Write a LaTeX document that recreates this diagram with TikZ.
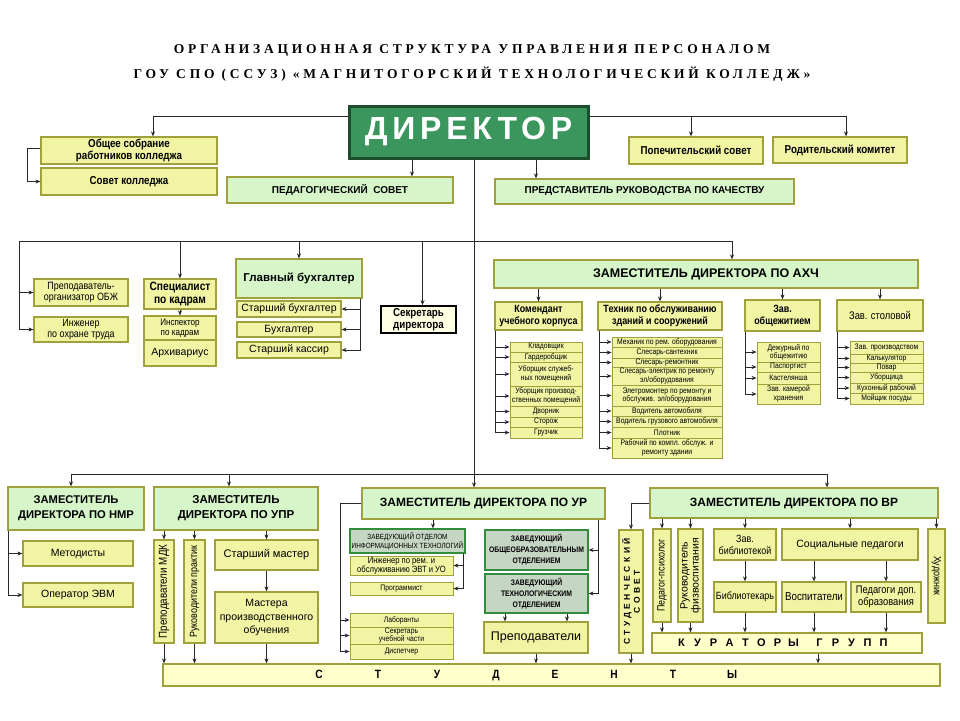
\documentclass[tikz,border=0pt]{standalone}
\usepackage{fontspec}
\setmainfont{Liberation Sans}
\newfontfamily\nar[FakeStretch=0.85]{Liberation Sans}
\newfontfamily\titlef[LetterSpace=28]{Liberation Serif}
\newfontfamily\dirf[LetterSpace=15]{Liberation Sans}
\newfontfamily\widef[LetterSpace=40]{Liberation Sans}
\usetikzlibrary{arrows.meta}
\definecolor{ybox}{RGB}{240,244,163}
\definecolor{gbox}{RGB}{214,246,202}
\definecolor{bord}{RGB}{160,160,60}
\definecolor{zfill}{RGB}{198,214,196}
\definecolor{zbord}{RGB}{50,140,60}
\definecolor{cbox}{RGB}{255,255,204}
\definecolor{skfill}{RGB}{255,255,228}
\definecolor{dirfill}{RGB}{58,150,92}
\definecolor{dirbord}{RGB}{28,78,45}
\definecolor{lnc}{RGB}{40,40,40}
\newcommand\fs[2]{\fontsize{#1}{#2}\selectfont}
\newcommand\bx[7]{\node[#2,minimum width={(#5)-(#3)},minimum height={(#6)-(#4)}] (#1) at ({((#3)+(#5))/2},{((#4)+(#6))/2}) {#7};}
\begin{document}
\begin{tikzpicture}[x=1pt,y=-1pt,
  box/.style={draw=bord,line width=1.2pt,inner sep=0.5pt,align=center,text=black},
  yb/.style={box,fill=ybox},
  gb/.style={box,fill=gbox},
  zb/.style={box,draw=zbord,fill=zfill},
  cb/.style={box,fill=cbox},
  sk/.style={box,draw=black,line width=1.6pt,fill=skfill},
  sm/.style={yb,line width=0.8pt,font=\nar\fs{8}{8.3}},
  dirst/.style={draw=dirbord,line width=3pt,fill=dirfill,text=white,inner sep=0pt},
  ln/.style={line width=0.9pt,draw=lnc},
  arr/.style={ln,-{Stealth[length=5pt,width=4pt]}}]
\fill[white] (0,0) rectangle (960,720);
\path[use as bounding box] (0,0) rectangle (960,720);

% title
\node[font=\titlef\bfseries\fs{13.5}{15}] (t1) at (472,50) {ОРГАНИЗАЦИОННАЯ СТРУКТУРА УПРАВЛЕНИЯ ПЕРСОНАЛОМ};
\node[font=\titlef\bfseries\fs{13.5}{15}] (t2) at (472,74) {ГОУ СПО (ССУЗ) «МАГНИТОГОРСКИЙ ТЕХНОЛОГИЧЕСКИЙ КОЛЛЕДЖ»};

% top level
\bx{dir}{dirst,font=\dirf\bfseries\fs{32}{34}}{349}{106}{588}{158}{ДИРЕКТОР}
\bx{obsh}{yb,font=\nar\bfseries\fs{11.5}{12.5}}{41}{137}{217}{164}{Общее собрание\\работников колледжа}
\bx{sovk}{yb,font=\nar\bfseries\fs{11.5}{12.5}}{41}{168}{217}{195}{Совет колледжа}
\bx{pedsov}{gb,font=\bfseries\fs{10}{11}}{227}{177}{453}{203}{ПЕДАГОГИЧЕСКИЙ\ \ СОВЕТ}
\bx{pop}{yb,font=\nar\bfseries\fs{11.5}{12.5}}{629}{137}{763}{164}{Попечительский совет}
\bx{rod}{yb,font=\nar\bfseries\fs{11.5}{12.5}}{773}{137}{907}{163}{Родительский комитет}
\bx{pred}{gb,font=\bfseries\fs{10}{11}}{495}{179}{794}{204}{ПРЕДСТАВИТЕЛЬ РУКОВОДСТВА ПО КАЧЕСТВУ}

% second level left
\bx{obzh}{yb,font=\nar\fs{10.5}{11}}{34}{279}{128}{306}{Преподаватель-\\организатор ОБЖ}
\bx{ing}{yb,font=\nar\fs{10.5}{11}}{34}{317}{128}{342}{Инженер\\по охране труда}
\bx{kadr}{yb,font=\nar\bfseries\fs{12}{13}}{144}{279}{216}{309}{Специалист\\по кадрам}
\bx{insp}{yb,font=\nar\fs{9.5}{10}}{144}{316}{216}{340}{Инспектор\\по кадрам}
\bx{arh}{yb,font=\fs{10.5}{11}}{144}{340}{216}{366}{Архивариус}
\bx{glb}{gb,font=\bfseries\fs{11.5}{13}}{236}{259}{362}{298}{Главный бухгалтер}
\bx{stb}{yb,font=\fs{10.5}{11}}{237}{301}{341}{317}{Старший бухгалтер}
\bx{buh}{yb,font=\fs{10.5}{11}}{237}{322}{341}{337}{Бухгалтер}
\bx{kas}{yb,font=\fs{10.5}{11}}{237}{342}{341}{358}{Старший кассир}
\bx{sekr}{sk,font=\nar\bfseries\fs{11.5}{12.5}}{381}{306}{456}{333}{Секретарь\\директора}

% AXCh
\bx{axch}{gb,font=\bfseries\fs{12.5}{14}}{494}{260}{918}{288}{ЗАМЕСТИТЕЛЬ ДИРЕКТОРА ПО АХЧ}
\bx{kom}{yb,font=\nar\bfseries\fs{10.5}{12}}{495}{302}{582}{330}{Комендант\\учебного корпуса}
\bx{teh}{yb,font=\nar\bfseries\fs{10.5}{12}}{598}{302}{722}{330}{Техник по обслуживанию\\зданий и сооружений}
\bx{obshz}{yb,font=\nar\bfseries\fs{10.5}{12}}{745}{300}{820}{331}{Зав.\\общежитием}
\bx{stol}{yb,font=\nar\fs{11}{12}}{837}{300}{923}{331}{Зав. столовой}

\bx{k1}{sm}{510}{342}{582}{352}{Кладовщик}
\bx{k2}{sm}{510}{352}{582}{362}{Гардеробщик}
\bx{k3}{sm}{510}{362}{582}{386}{Уборщик служеб-\\ных помещений}
\bx{k4}{sm}{510}{386}{582}{406}{Уборщик производ-\\ственных помещений}
\bx{k5}{sm}{510}{406}{582}{417}{Дворник}
\bx{k6}{sm}{510}{417}{582}{427}{Сторож}
\bx{k7}{sm}{510}{427}{582}{438}{Грузчик}

\bx{h1}{sm}{612}{337}{722}{347}{Механик по рем. оборудования}
\bx{h2}{sm}{612}{347}{722}{358}{Слесарь-сантехник}
\bx{h3}{sm}{612}{358}{722}{367}{Слесарь-ремонтник}
\bx{h4}{sm}{612}{367}{722}{385}{Слесарь-электрик по ремонту\\эл/оборудования}
\bx{h5}{sm}{612}{385}{722}{406}{Элетромонтер по ремонту и\\обслужив. эл/оборудования}
\bx{h6}{sm}{612}{406}{722}{416}{Водитель автомобиля}
\bx{h7}{sm}{612}{416}{722}{427}{Водитель грузового автомобиля}
\bx{h8}{sm}{612}{427}{722}{438}{Плотник}
\bx{h9}{sm}{612}{438}{722}{458}{Рабочий по компл. обслуж. и\\ремонту здании}

\bx{o1}{sm}{757}{342}{820}{362}{Дежурный по\\общежитию}
\bx{o2}{sm}{757}{362}{820}{372}{Паспортист}
\bx{o3}{sm}{757}{372}{820}{384}{Кастелянша}
\bx{o4}{sm}{757}{384}{820}{404}{Зав. камерой\\хранения}

\bx{s1}{sm}{850}{341}{923}{354}{Зав. производством}
\bx{s2}{sm}{850}{354}{923}{363}{Калькулятор}
\bx{s3}{sm}{850}{363}{923}{372}{Повар}
\bx{s4}{sm}{850}{372}{923}{383}{Уборщица}
\bx{s5}{sm}{850}{383}{923}{393}{Кухонный рабочий}
\bx{s6}{sm}{850}{393}{923}{404}{Мойщик посуды}

% bottom level: NMR, UPR
\bx{nmr}{gb,font=\bfseries\fs{11.2}{15}}{8}{487}{144}{530}{ЗАМЕСТИТЕЛЬ\\ДИРЕКТОРА ПО НМР}
\bx{upr}{gb,font=\bfseries\fs{11.5}{15}}{154}{487}{318}{530}{ЗАМЕСТИТЕЛЬ\\ДИРЕКТОРА ПО УПР}
\bx{met}{yb,font=\fs{10.5}{11}}{23}{541}{133}{566}{Методисты}
\bx{evm}{yb,font=\fs{10.5}{11}}{23}{583}{133}{607}{Оператор ЭВМ}
\bx{mdk}{yb}{154}{540}{174}{643}{}
\bx{ruk}{yb}{184}{540}{205}{643}{}
\bx{stm}{yb,font=\fs{11}{12}}{215}{540}{318}{570}{Старший мастер}
\bx{mpo}{yb,font=\fs{10.5}{13.5}}{215}{592}{318}{643}{Мастера\\производственного\\обучения}
\bx{stud}{cb}{163}{664}{940}{686}{}
\node[rotate=90,font=\nar\fs{11.5}{11}] (mdkt) at (mdk.center) {Преподаватели МДК};
\node[rotate=90,font=\nar\fs{10.5}{11}] (rukt) at (ruk.center) {Руководители практик};
\node[font=\nar\bfseries\fs{12}{12}] (studt) at ([xshift=-26pt]stud.center) {\makebox[59pt]{С}\makebox[59pt]{Т}\makebox[59pt]{У}\makebox[59pt]{Д}\makebox[59pt]{Е}\makebox[59pt]{Н}\makebox[59pt]{Т}\makebox[59pt]{Ы}};

% UR
\bx{ur}{gb,font=\bfseries\fs{12}{14}}{362}{488}{605}{519}{ЗАМЕСТИТЕЛЬ ДИРЕКТОРА ПО УР}
\bx{zit}{zb,font=\nar\fs{7.5}{9}}{350}{529}{465}{553}{ЗАВЕДУЮЩИЙ ОТДЕЛОМ\\ИНФОРМАЦИОННЫХ ТЕХНОЛОГИЙ}
\bx{inz}{yb,line width=0.8pt,font=\nar\fs{9}{8.8}}{350}{556}{453}{575}{Инженер по рем. и\\обслуживанию ЭВТ и УО}
\bx{prog}{sm}{350}{582}{453}{595}{Программист}
\bx{lab}{sm}{350}{613}{453}{627}{Лаборанты}
\bx{sec}{sm}{350}{627}{453}{644}{Секретарь\\учебной части}
\bx{disp}{sm}{350}{644}{453}{659}{Диспетчер}
\bx{zob}{zb,font=\nar\bfseries\fs{8}{11}}{485}{530}{588}{570}{ЗАВЕДУЮЩИЙ\\ОБЩЕОБРАЗОВАТЕЛЬНЫМ\\ОТДЕЛЕНИЕМ}
\bx{zteh}{zb,font=\nar\bfseries\fs{8}{11}}{485}{574}{588}{613}{ЗАВЕДУЮЩИЙ\\ТЕХНОЛОГИЧЕСКИМ\\ОТДЕЛЕНИЕМ}
\bx{prep}{yb,font=\fs{12.5}{14}}{484}{622}{588}{653}{Преподаватели}

% VR
\bx{vr}{gb,font=\bfseries\fs{12}{14}}{650}{488}{938}{518}{ЗАМЕСТИТЕЛЬ ДИРЕКТОРА ПО ВР}
\bx{ssov}{yb}{619}{530}{643}{653}{}
\bx{psy}{yb}{653}{529}{671}{622}{}
\bx{fiz}{yb}{678}{529}{703}{622}{}
\bx{zbib}{yb,font=\nar\fs{10.5}{12}}{714}{529}{776}{560}{Зав.\\библиотекой}
\bx{socp}{yb,font=\fs{10.5}{12}}{782}{529}{918}{560}{Социальные педагоги}
\bx{hud}{yb}{928}{529}{945}{623}{}
\bx{bib}{yb,font=\nar\fs{10.5}{12}}{714}{582}{776}{612}{Библиотекарь}
\bx{vos}{yb,font=\nar\fs{11.5}{12}}{782}{582}{846}{612}{Воспитатели}
\bx{pdo}{yb,font=\nar\fs{11}{11.5}}{851}{582}{921}{612}{Педагоги доп.\\образования}
\bx{kur}{cb,font=\bfseries\fs{11}{12}}{652}{633}{922}{653}{\makebox[16pt]{К}\makebox[16pt]{У}\makebox[16pt]{Р}\makebox[16pt]{А}\makebox[16pt]{Т}\makebox[16pt]{О}\makebox[16pt]{Р}\makebox[16pt]{Ы}\hspace{10pt}\makebox[16pt]{Г}\makebox[16pt]{Р}\makebox[16pt]{У}\makebox[16pt]{П}\makebox[16pt]{П}\hspace{9pt}}
\node[rotate=90,font=\widef\bfseries\fs{8.5}{10},align=center] (ssovt) at (ssov.center) {СТУДЕНЧЕСКИЙ\\СОВЕТ};
\node[rotate=90,font=\nar\fs{10.5}{10}] (psyt) at (psy.center) {Педагог-психолог};
\node[rotate=90,font=\fs{10.5}{11},align=center] (fizt) at (fiz.center) {Руководитель\\физвоспитания};
\node[rotate=-90,font=\nar\fs{10.5}{11}] (hudt) at (hud.center) {Художник};

% ---------- connectors ----------
\coordinate (dl) at ([yshift=15.5pt]dir.west);
\coordinate (dr) at ([yshift=15.5pt]dir.east);
\draw[arr] (dl) -| ([xshift=24pt]obsh.north);
\draw[arr] ([yshift=2.5pt]obsh.west) -- ++(-13,0) |- (sovk.west);
\draw[arr] (dr) -| ([xshift=-5pt]pop.north);
\draw[arr] (dr) -| ([xshift=6pt]rod.north);
\draw[arr] ([xshift=-56.5pt]dir.south) -- ([xshift=72pt]pedsov.north);
\draw[arr] ([xshift=67.5pt]dir.south) -- ([xshift=-108.5pt]pred.north);
\draw[arr] ([xshift=5.5pt]dir.south) -- ([xshift=-9.5pt]ur.north);

\coordinate (b1l) at (19,241);
\draw[arr] (b1l) -| ([xshift=26pt]axch.north);
\draw[arr] (b1l) -| (kadr.north);
\draw[arr] (b1l) -| (glb.north);
\draw[arr] (b1l) -| ([xshift=4pt]sekr.north);
\draw[arr] (b1l) |- (obzh.west);
\draw[arr] (b1l) |- (ing.west);
\draw[arr] (kadr.south) -- (insp.north);
\foreach \n in {stb,buh,kas} \draw[arr] ([xshift=-2pt]glb.south east) |- (\n.east);

\foreach \n in {kom,teh,obshz,stol} \draw[arr] (axch.south -| \n.north) -- (\n.north);
\foreach \n in {k1,k2,k3,k4,k5,k6,k7} \draw[arr] ([xshift=1.5pt]kom.south west) |- (\n.west);
\foreach \n in {h1,h2,h3,h4,h5,h6,h7,h8,h9} \draw[arr] ([xshift=2pt]teh.south west) |- (\n.west);
\foreach \n in {o1,o2,o3,o4} \draw[arr] ([xshift=1.5pt]obshz.south west) |- (\n.west);
\foreach \n in {s1,s2,s3,s4,s5,s6} \draw[arr] ([xshift=1.5pt]stol.south west) |- (\n.west);

\coordinate (b2l) at (71,474);
\draw[arr] (b2l) -| ([xshift=-5pt]nmr.north);
\draw[arr] (b2l) -| ([xshift=-7pt]upr.north);
\draw[arr] (b2l) -| ([xshift=33pt]vr.north);
\foreach \n in {met,evm} \draw[arr] ([xshift=1.5pt]nmr.south west) |- (\n.west);
\foreach \n in {mdk,ruk,stm} \draw[arr] (upr.south -| \n.north) -- (\n.north);
\draw[arr] (stm) -- (mpo);
\foreach \n in {mdk,ruk,mpo} \draw[arr] (\n.south) -- (\n.south |- stud.north);

\coordinate (urb) at (340,503.5);
\draw[ln] (ur.west) -- (urb);
\foreach \n in {lab,sec,disp} \draw[arr] (urb) |- (\n.west);
\draw[arr] ([xshift=-50.5pt]ur.south) -- ([xshift=25.5pt]zit.north);
\foreach \n in {inz,prog} \draw[arr] ([xshift=-2pt]zit.south east) |- (\n.east);
\foreach \n in {zob,zteh} \draw[arr] ([xshift=-7pt]ur.south east) |- (\n.east);
\draw[arr] ([xshift=-31.5pt]zteh.south) -- ([xshift=-31pt]prep.north);
\draw[arr] ([xshift=30.5pt]zteh.south) -- ([xshift=31pt]prep.north);
\draw[arr] (prep.south) -- (prep.south |- stud.north);

\draw[arr] (vr.west) -| (ssov.north);
\draw[arr] (ssov.south) -- (ssov.south |- stud.north);
\foreach \n in {psy,fiz,zbib,socp,hud} \draw[arr] (vr.south -| \n.north) -- (\n.north);
\draw[arr] (zbib) -- (bib);
\foreach \n in {vos,pdo} \draw[arr] (socp.south -| \n.north) -- (\n.north);
\foreach \n in {psy,fiz,bib,vos,pdo} \draw[arr] (\n.south) -- (\n.south |- kur.north);
\draw[arr] ([xshift=31pt]kur.south) -- ([xshift=266.5pt]stud.north);
\end{tikzpicture}
\end{document}
